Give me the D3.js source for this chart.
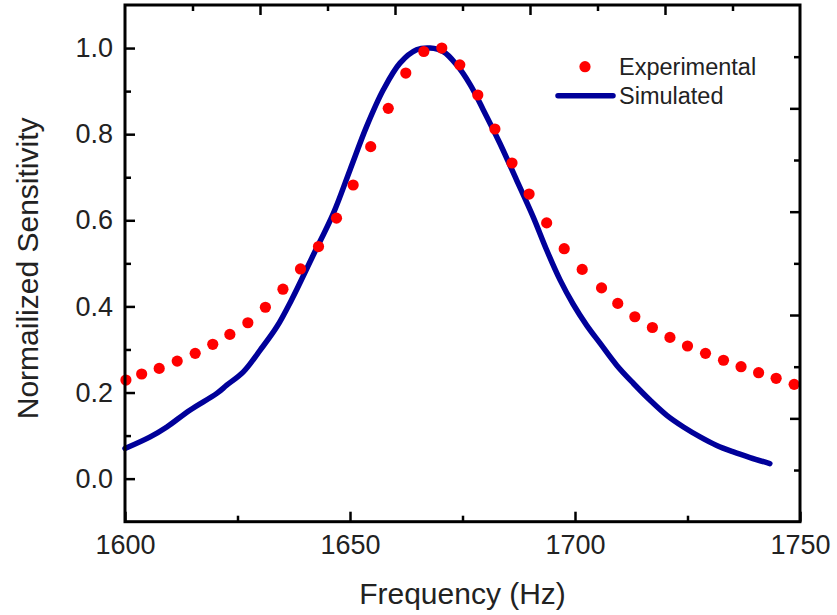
<!DOCTYPE html>
<html><head><meta charset="utf-8">
<script src="https://cdn.jsdelivr.net/npm/d3@7"></script>
<style>
body{margin:0;background:#fff;}
text{font-family:"Liberation Sans",Arial,sans-serif;fill:#222;}
</style></head><body>
<svg id="c" width="837" height="615"></svg>
<script>
// Experimental data (Hz, normalized)
const expFreq = [1600.2,1603.7,1607.6,1611.6,1615.6,1619.5,1623.3,1627.3,1631.2,1635.1,1639.0,
  1643.0,1647.0,1650.7,1654.6,1658.5,1662.4,1666.4,1670.4,1674.4,1678.4,1682.2,1686.0,1689.8,1693.7,
  1697.6,1701.6,1705.9,1709.5,1713.3,1717.2,1721.1,1725.0,1729.0,1733.0,1736.9,1740.8,1744.7,1748.7];
const expVal = [0.229,0.243,0.256,0.273,0.291,0.312,0.335,0.362,0.398,0.440,0.487,
  0.539,0.605,0.682,0.771,0.860,0.942,0.992,1.000,0.961,0.891,0.812,0.733,0.661,0.594,
  0.534,0.486,0.443,0.407,0.376,0.351,0.328,0.308,0.291,0.275,0.260,0.246,0.233,0.219];
// Simulated curve
const simFreq = [1600.0,1605.6,1609.3,1614.4,1620.4,1622.6,1626.3,1630.0,1633.7,1637.0,1641.5,
  1646.3,1650.0,1653.7,1657.4,1661.1,1664.8,1667.8,1670.7,1673.7,1676.7,1679.6,1683.3,1687.0,
  1690.7,1693.7,1696.7,1699.6,1702.6,1705.6,1709.3,1713.0,1716.7,1720.4,1724.1,1727.8,1731.5,
  1735.2,1738.9,1743.3];
const simVal = [0.070,0.097,0.120,0.159,0.198,0.217,0.248,0.298,0.352,0.415,0.512,
  0.616,0.717,0.818,0.903,0.965,0.996,1.000,0.992,0.961,0.915,0.857,0.779,0.694,
  0.608,0.531,0.461,0.405,0.356,0.314,0.263,0.221,0.182,0.147,0.120,0.097,0.077,
  0.062,0.049,0.035];
// Tick values
const xMajor = [1600,1650,1700,1750];
const xMinor = [1625,1675,1725];
const yMajor = [0.0,0.2,0.4,0.6,0.8,1.0];
const yMinor = [0.1,0.3,0.5,0.7,0.9];
const topMajor = [1630,1660,1690,1720];
const topMinor = [1615,1645,1675,1705,1735];
const rightMajor = [0.14,0.38,0.62,0.86];
const rightMinor = [0.02,0.26,0.50,0.74,0.98];
const seriesNames = ["Experimental","Simulated"];
const xTitle = "Frequency (Hz)";
const yTitle = "Normailized Sensitivity";

const L=125, R=800, T=5, B=521.7;
const x = d3.scaleLinear().domain([1600,1750]).range([L,R]);
const y = d3.scaleLinear().domain([-0.1,1.1]).range([B,T]);
const svg = d3.select("#c");
const RED="#ff0000", BLUE="#00009a";
const MAJ=10, MIN=6;

// data
const line = d3.line().x((d,i)=>x(simFreq[i])).y((d,i)=>y(simVal[i])).curve(d3.curveCatmullRom.alpha(0.5));
svg.append("path").datum(simVal).attr("d",line).attr("fill","none")
  .attr("stroke",BLUE).attr("stroke-width",5.5).attr("stroke-linecap","round").attr("stroke-linejoin","round");
svg.append("g").selectAll("circle").data(expVal).join("circle")
  .attr("cx",(d,i)=>x(expFreq[i])).attr("cy",d=>y(d)).attr("r",5.6).attr("fill",RED);

// axes
function ax(gen, tr, vals, size, labels, pad){
  const a = gen.tickValues(vals).tickSizeInner(-size).tickSizeOuter(0).tickPadding(pad||0);
  if(!labels) a.tickFormat("");
  else a.tickFormat(labels);
  const g = svg.append("g").attr("transform",tr).call(a);
  g.select(".domain").remove();
  g.selectAll("line").attr("stroke","#000").attr("stroke-width",2.5);
  g.selectAll("text").attr("font-size",27).attr("fill","#222").attr("font-family",'"Liberation Sans",Arial,sans-serif');
  return g;
}
ax(d3.axisBottom(x), `translate(0,${B})`, xMajor, MAJ, d=>d3.format("d")(d), 13);
ax(d3.axisBottom(x), `translate(0,${B})`, xMinor, MIN, null);
ax(d3.axisLeft(y), `translate(${L},0)`, yMajor, MAJ, d=>d3.format(".1f")(d), 12);
ax(d3.axisLeft(y), `translate(${L},0)`, yMinor, MIN, null);
ax(d3.axisTop(x), `translate(0,${T})`, topMajor, MAJ, null);
ax(d3.axisTop(x), `translate(0,${T})`, topMinor, MIN, null);
ax(d3.axisRight(y), `translate(${R},0)`, rightMajor, MAJ, null);
ax(d3.axisRight(y), `translate(${R},0)`, rightMinor, MIN, null);

// frame
svg.append("rect").attr("x",L).attr("y",T).attr("width",R-L).attr("height",B-T)
  .attr("fill","none").attr("stroke","#000").attr("stroke-width",3);

// titles
svg.append("text").attr("x",(L+R)/2).attr("y",604).attr("text-anchor","middle")
  .attr("font-size",30).text(xTitle);
svg.append("text").attr("transform",`translate(38,${(T+B)/2+5}) rotate(-90)`).attr("text-anchor","middle")
  .attr("font-size",30).text(yTitle);

// legend
const lg = svg.append("g");
lg.append("circle").attr("cx",585).attr("cy",66.7).attr("r",5.6).attr("fill",RED);
lg.append("text").attr("x",619).attr("y",75).attr("font-size",23.5).text(seriesNames[0]);
lg.append("line").attr("x1",558).attr("x2",613).attr("y1",95.7).attr("y2",95.7)
  .attr("stroke",BLUE).attr("stroke-width",5.5).attr("stroke-linecap","round");
lg.append("text").attr("x",619).attr("y",104).attr("font-size",23.5).text(seriesNames[1]);
</script>
</body></html>
